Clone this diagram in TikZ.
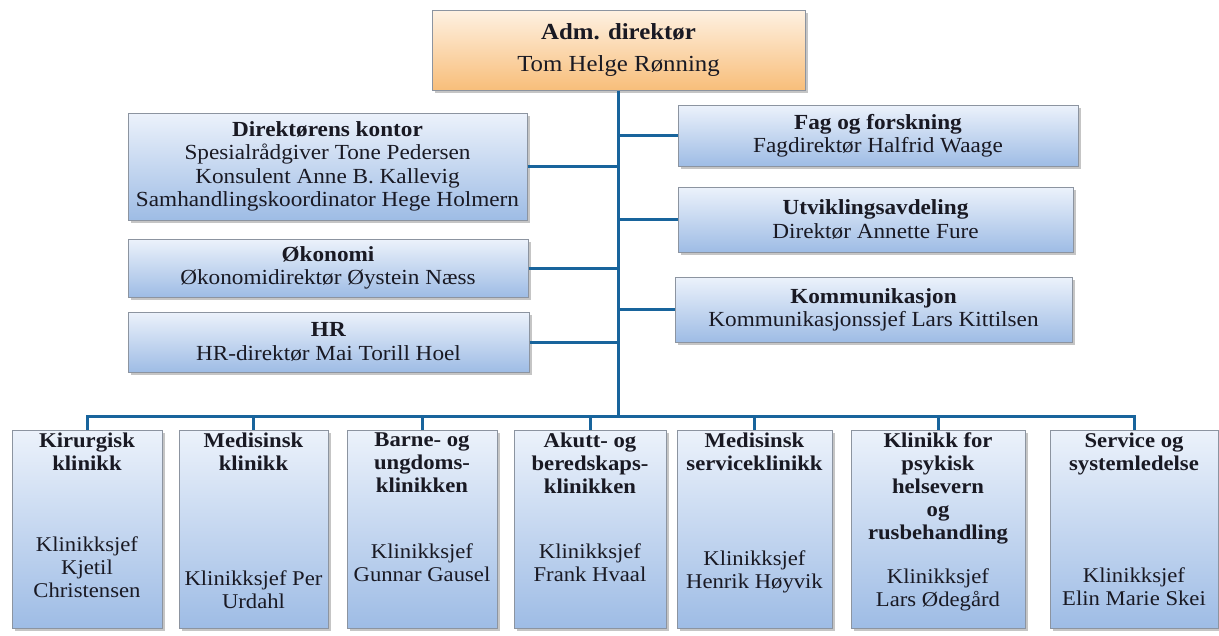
\documentclass[tikz,border=0pt]{standalone}
\usepackage{fontspec}
\setmainfont{Liberation Serif}[FakeStretch=1.08]
\usepackage{xcolor}
\definecolor{boxtop}{RGB}{236,242,251}
\definecolor{boxbot}{RGB}{158,188,229}
\definecolor{ceotop}{RGB}{254,241,226}
\definecolor{ceobot}{RGB}{248,190,122}
\definecolor{frame}{RGB}{140,148,160}
\definecolor{wire}{RGB}{24,100,156}
\definecolor{ink}{RGB}{25,25,35}
\usepackage{tikz}
\usetikzlibrary{shadows}
\tikzset{
  unit/.style={draw=frame,line width=1pt,top color=boxtop,bottom color=boxbot,%
    drop shadow={shadow xshift=2.5pt,shadow yshift=-2.5pt,fill=black!45,opacity=.5},%
    text=ink,inner sep=2pt,align=center,font=\fontsize{21.5}{23.3}\selectfont},
  ceo/.style={unit,top color=ceotop,bottom color=ceobot,font=\fontsize{23}{26}\selectfont},
  clinic/.style={unit,minimum height=198pt},
  head/.style={anchor=north,inner sep=3pt,text=ink,align=center,%
    font=\fontsize{21}{23}\selectfont\bfseries},
  chief/.style={text=ink,align=center,inner sep=0pt,font=\fontsize{21}{23}\selectfont},
  link/.style={draw=wire,line width=3pt},
}

\begin{document}
\begin{tikzpicture}[x=1pt,y=-1pt]
\useasboundingbox (0,0) rectangle (1219,635);
% leadership
\node[ceo,minimum width=373pt,minimum height=80pt] (adm) at (618.5,50)
  {\textbf{Adm. direktør}\\[6pt]Tom Helge Rønning};
% staff units, left
\node[unit,minimum width=399pt,minimum height=107pt] (kontor) at (327.5,166.5)
  {\textbf{Direktørens kontor}\\Spesialrådgiver Tone Pedersen\\Konsulent Anne B. Kallevig\\Samhandlingskoordinator Hege Holmern};
\node[unit,minimum width=400pt,minimum height=58pt] (okonomi) at (328,268)
  {\textbf{Økonomi}\\Økonomidirektør Øystein Næss};
\node[unit,minimum width=401pt,minimum height=60pt] (hr) at (328.5,342)
  {\textbf{HR}\\HR-direktør Mai Torill Hoel};
% staff units, right
\node[unit,minimum width=400pt,minimum height=61pt] (fag) at (878,135.5)
  {\textbf{Fag og forskning}\\Fagdirektør Halfrid Waage};
\node[unit,minimum width=395pt,minimum height=65pt] (utv) at (875.5,219.5)
  {\textbf{Utviklingsavdeling}\\Direktør Annette Fure};
\node[unit,minimum width=397pt,minimum height=65pt] (komm) at (873.5,309.5)
  {\textbf{Kommunikasjon}\\Kommunikasjonssjef Lars Kittilsen};
% clinics
\node[clinic,minimum width=150pt] (kir) at (87,529) {};
\node[clinic,minimum width=149pt] (med) at (253.5,529) {};
\node[clinic,minimum width=150pt] (barn) at (422,529) {};
\node[clinic,minimum width=152pt] (akutt) at (590,529) {};
\node[clinic,minimum width=155pt] (mservice) at (754.5,529) {};
\node[clinic,minimum width=174pt] (psyk) at (938,529) {};
\node[clinic,minimum width=168pt] (service) at (1134,529) {};
\node[head] (kir-h) at (kir.north) {Kirurgisk\\klinikk};
\node[head] (med-h) at (med.north) {Medisinsk\\klinikk};
\node[head] (barn-h) at (barn.north) {Barne- og\\ungdoms-\\klinikken};
\node[head] (akutt-h) at (akutt.north) {Akutt- og\\beredskaps-\\klinikken};
\node[head] (mservice-h) at (mservice.north) {Medisinsk\\serviceklinikk};
\node[head] (psyk-h) at (psyk.north) {Klinikk for\\psykisk\\helsevern\\og\\rusbehandling};
\node[head] (service-h) at (service.north) {Service og\\systemledelse};
\node[chief] (kir-c) at (87,567) {Klinikksjef\\Kjetil\\Christensen};
\node[chief] (med-c) at (253.5,590) {Klinikksjef Per\\Urdahl};
\node[chief] (barn-c) at (422,563) {Klinikksjef\\Gunnar Gausel};
\node[chief] (akutt-c) at (590,563) {Klinikksjef\\Frank Hvaal};
\node[chief] (mservice-c) at (754.5,572) {Klinikksjef\\Henrik Høyvik};
\node[chief] (psyk-c) at (938,590) {Klinikksjef\\Lars Ødegård};
\node[chief] (service-c) at (1134,587) {Klinikksjef\\Elin Marie Skei};
% lines
\coordinate (bus) at (618.5,416);
\draw[link] (adm.south) -- (bus);
\draw[link] (kontor.east) -- (kontor.east -| adm.south);
\draw[link] (okonomi.east) -- (okonomi.east -| adm.south);
\draw[link] (hr.east) -- (hr.east -| adm.south);
\draw[link] (fag.west) -- (fag.west -| adm.south);
\draw[link] (utv.west) -- (utv.west -| adm.south);
\draw[link] (komm.west) -- (komm.west -| adm.south);
\draw[link] (kir.north) -- (kir.north |- bus) -- (service.north |- bus) -- (service.north);
\draw[link] (med.north) -- (med.north |- bus);
\draw[link] (barn.north) -- (barn.north |- bus);
\draw[link] (akutt.north) -- (akutt.north |- bus);
\draw[link] (mservice.north) -- (mservice.north |- bus);
\draw[link] (psyk.north) -- (psyk.north |- bus);
\end{tikzpicture}
\end{document}
